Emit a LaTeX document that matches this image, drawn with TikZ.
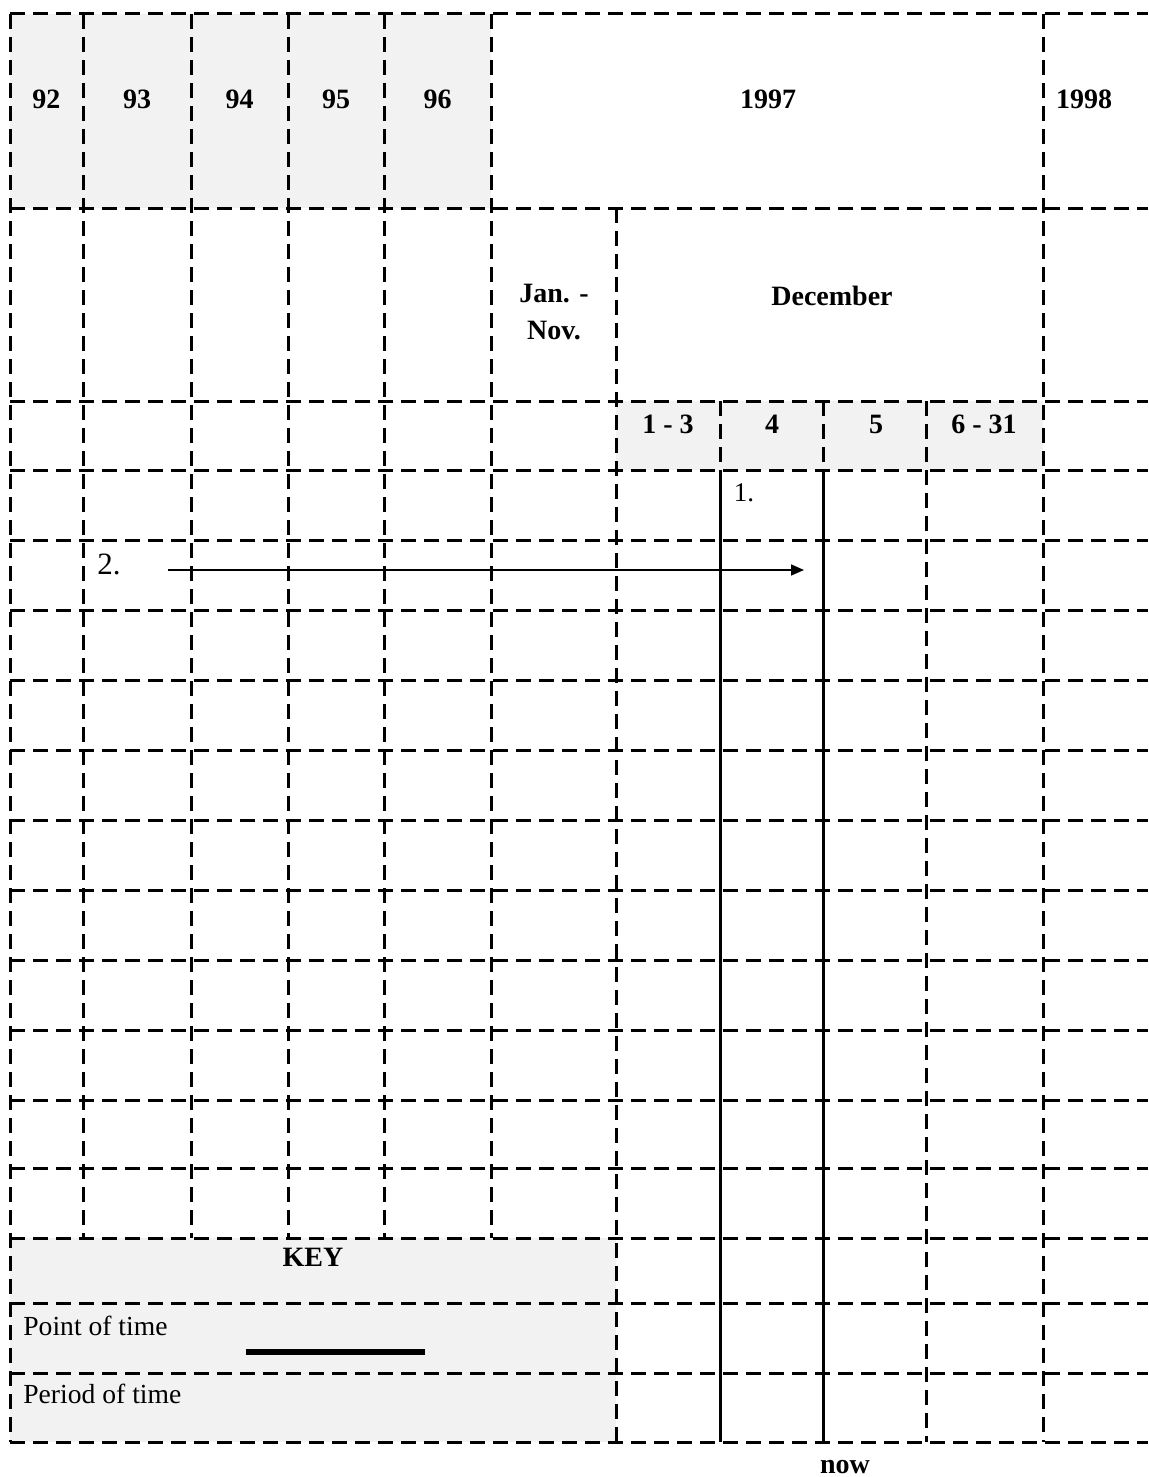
\documentclass[tikz,border=0pt]{standalone}
\usepackage{fontspec}
\setmainfont{Liberation Serif}
\usetikzlibrary{arrows.meta}
\definecolor{cellshade}{HTML}{F2F2F2}
\begin{document}
\begin{tikzpicture}[x=0.5pt,y=-0.5pt,
  gridln/.style={line width=1.5pt, dash pattern=on 7.5pt off 4pt},
  solidln/.style={line width=1.5pt},
  bl/.style={font=\fontsize{14}{18.5}\selectfont\bfseries, inner sep=0pt, align=center},
  rl/.style={font=\fontsize{13.8}{16}\selectfont, inner sep=0pt},
]
\useasboundingbox (0,0) rectangle (1148,1477);
% shading
\fill[cellshade] (10,14) rectangle (491,208);
\fill[cellshade] (616,401) rectangle (1043,470);
\fill[cellshade] (10,1238) rectangle (616,1442);
% horizontal grid lines
\foreach \y in {14,208,401,470,540,610,680,750,820,890,960,1030,1100,1168,1238,1303,1373,1442}
  \draw[gridln] (10,\y) -- (1148,\y);
% vertical grid lines
\draw[gridln] (10,14) -- (10,1442);
\foreach \x in {83,191,288,384,491}
  \draw[gridln] (\x,14) -- (\x,1238);
\draw[gridln] (616,208) -- (616,1442);
\draw[gridln] (720,401) -- (720,470);
\draw[gridln] (823,401) -- (823,470);
\draw[gridln] (926,401) -- (926,1442);
\draw[gridln] (1043,14) -- (1043,1442);
% solid time lines
\coordinate (p4top) at (720,470);
\coordinate (p4bot) at (720,1442);
\coordinate (p5top) at (823,470);
\coordinate (p5bot) at (823,1442);
\draw[solidln] (p4top) -- (p4bot);
\draw[solidln] (p5top) -- (p5bot);
% year labels
\node[bl] (y92) at (46.5,99) {92};
\node[bl] (y93) at (137,99) {93};
\node[bl] (y94) at (239.5,99) {94};
\node[bl] (y95) at (336,99) {95};
\node[bl] (y96) at (437.5,99) {96};
\node[bl] (y97) at (768,99) {1997};
\node[bl] (y98) at (1084,99) {1998};
% month labels
\node[bl] (jan) at (554,312) {Jan. -\\Nov.};
\node[bl] (dec) at (832,296) {December};
% day labels
\node[bl] (d13) at (668,424) {1 - 3};
\node[bl] (d4) at (772,424) {4};
\node[bl] (d5) at (876,424) {5};
\node[bl] (d631) at (984,424) {6 - 31};
% event labels
\node[font=\fontsize{13.5}{16}\selectfont, inner sep=0pt] (e1) at (744,493) {1.};
\node[font=\fontsize{15.5}{18}\selectfont, inner sep=0pt] (e2) at (109,564) {2.};
\coordinate (a2s) at (168,570);
\coordinate (a2e) at (804,570);
\draw[line width=0.8pt, -{Triangle[length=6.5pt,width=5.5pt]}] (a2s) -- (a2e);
% key
\node[bl] (key) at (313,1257) {KEY};
\node[rl, anchor=west] (pt) at (23,1326) {Point of time};
\coordinate (kls) at (246,1352);
\coordinate (kle) at (425,1352);
\draw[line width=3pt] (kls) -- (kle);
\node[rl, anchor=west] (pd) at (23,1394) {Period of time};
% now
\node[bl] (now) at (845,1467) {now};
\end{tikzpicture}
\end{document}
